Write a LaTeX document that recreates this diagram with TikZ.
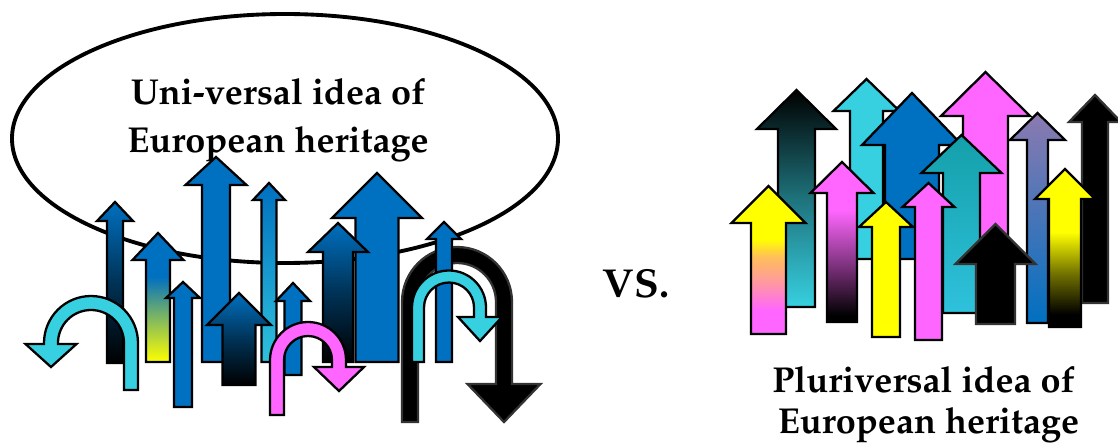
\documentclass[tikz,border=0pt]{standalone}
\usepackage[T1]{fontenc}
\usepackage{mathpazo}
\usepackage{xcolor}
\usepackage{tikz}
\usetikzlibrary{shapes,positioning}
\definecolor{arrblue}{RGB}{0, 112, 192}
\definecolor{arrcyan}{RGB}{55, 208, 225}
\definecolor{arrmag}{RGB}{255, 102, 255}
\definecolor{arryel}{RGB}{255, 255, 0}
\definecolor{arrteal}{RGB}{20, 160, 170}
\definecolor{arrpurp}{RGB}{140, 122, 176}
\definecolor{arrpink}{RGB}{255, 150, 165}
\definecolor{arrorange}{RGB}{255, 190, 90}
\pgfdeclareverticalshading{blueyel}{100bp}{color(0bp)=(arryel); color(25bp)=(arryel); color(42bp)=(arrblue!50!arryel); color(58bp)=(arrblue); color(100bp)=(arrblue)}
\pgfdeclareverticalshading{yelmag}{100bp}{color(0bp)=(arrmag); color(33bp)=(arrmag); color(42bp)=(arrpink); color(51bp)=(arrorange); color(57bp)=(arryel); color(100bp)=(arryel)}
\pgfdeclareverticalshading{magblack}{100bp}{color(0bp)=(black); color(27bp)=(black); color(43bp)=(arrmag!50!black); color(60bp)=(arrmag); color(100bp)=(arrmag)}
\pgfdeclareverticalshading{yelblack}{100bp}{color(0bp)=(black); color(29bp)=(black); color(42bp)=(arryel!45!black); color(55bp)=(arryel); color(100bp)=(arryel)}
\tikzstyle{arr} = [draw=black, line width=1.3pt, line join=miter]
\tikzstyle{bluearr} = [arr, fill=arrblue]
\tikzstyle{cyanarr} = [arr, fill=arrcyan]
\tikzstyle{magarr} = [arr, fill=arrmag]
\tikzstyle{yelarr} = [arr, fill=arryel]
\tikzstyle{blackarr} = [arr, fill=black, draw=black!80]
\tikzstyle{darkarr} = [arr, top color=arrblue, bottom color=black, middle color=arrblue!45!black]
\tikzstyle{bluecyanarr} = [arr, top color=arrblue, bottom color=arrcyan!85!arrblue]
\tikzstyle{blueyelarr} = [arr, shading=blueyel]
\tikzstyle{tealarr} = [arr, top color=black, bottom color=arrcyan, middle color=arrcyan!55!black]
\tikzstyle{tealcyanarr} = [arr, top color=arrteal, bottom color=arrcyan!85!arrblue]
\tikzstyle{purparr} = [arr, top color=arrpurp, bottom color=arrblue]
\tikzstyle{yelmagarr} = [arr, shading=yelmag]
\tikzstyle{magblackarr} = [arr, shading=magblack]
\tikzstyle{yelblackarr} = [arr, shading=yelblack]
\tikzstyle{lbl} = [font=\fontsize{20.5}{25}\selectfont\bfseries, inner sep=0pt, anchor=base]
% straight arrow: style, x, tip, head base, tail, half shaft, half head
\newcommand{\arrowup}[7]{%
  \path[#1] (#2-#6,#5) -- (#2-#6,#4) -- (#2-#7,#4) -- (#2,#3) -- (#2+#7,#4) -- (#2+#6,#4) -- (#2+#6,#5) -- cycle;}
% u-turn arrow: style, cx, cy, radius, half width, tail, head base, tip, half head
\newcommand{\uturn}[9]{%
  \path[#1] (#2-#4-#5,#6) -- (#2-#4-#5,#3) arc (180:360:#4+#5) -- (#2+#4+#5,#7) -- (#2+#4+#9,#7) -- (#2+#4,#8) -- (#2+#4-#9,#7) -- (#2+#4-#5,#7) -- (#2+#4-#5,#3) arc (0:-180:#4-#5) -- (#2-#4+#5,#6) -- cycle;}

\begin{document}
\begin{tikzpicture}[x=0.02cm, y=-0.02cm]
\useasboundingbox (0,0) rectangle (1118,446);

% universal idea =============================
\draw[line width=2.2pt] (285,138.5) ellipse [x radius=273, y radius=124.5];
\node[lbl] (uni1) at (278,105) {Uni-versal idea of};
\node[lbl] (uni2) at (278,152) {European heritage};

\arrowup{darkarr}{115}{202}{221}{363}{8}{18}
\arrowup{blueyelarr}{158}{233}{260}{362}{12}{25.5}
\arrowup{bluearr}{183}{282}{298}{407}{9}{17}
\arrowup{bluearr}{216}{157}{185}{362}{14}{30.5}
\arrowup{bluecyanarr}{269}{183}{200}{362}{7.5}{16}
\arrowup{darkarr}{239}{293}{325}{385}{16.5}{32}
\begin{scope}[xscale=-1]
\uturn{cyanarr}{-91}{343}{40}{7}{390}{344}{367}{25.5}
\end{scope}
\arrowup{bluearr}{293}{283}{301}{375}{8.5}{17}
\arrowup{bluearr}{377}{173}{218}{362}{21.5}{45}
\arrowup{darkarr}{338}{223}{252}{362}{15}{30}
\uturn{magarr}{308}{360}{31}{7}{415}{367}{391}{25}
\uturn{blackarr}{457}{302}{47}{8}{422}{384}{422}{36.5}
\arrowup{bluearr}{444}{222}{239}{362}{8}{17}
\uturn{cyanarr}{449}{307.5}{31}{6}{362}{317}{341}{22}

% vs =============================
\node[lbl, font=\fontsize{23}{28}\selectfont\bfseries] (vs) at (636,297) {VS.};

% pluriversal idea =============================
\arrowup{magarr}{985.5}{72}{116}{255}{22.5}{44.5}
\arrowup{cyanarr}{866.5}{79}{111}{259}{16.5}{33}
\arrowup{bluearr}{912}{93}{145}{259}{27}{50}
\arrowup{tealarr}{796.5}{90}{129}{307}{18.5}{39.5}
\arrowup{blackarr}{1095}{95}{122}{303}{13}{26}
\arrowup{purparr}{1037.5}{113}{140}{323}{10.5}{27.5}
\arrowup{tealcyanarr}{961.5}{135}{173}{313}{18.5}{40}
\arrowup{yelmagarr}{768.5}{186}{223}{334}{17.5}{37}
\arrowup{magblackarr}{842}{162}{193}{322}{15}{31.5}
\arrowup{yelarr}{886}{202}{227}{337}{14}{27}
\arrowup{magarr}{928.5}{183}{207}{340}{13.5}{26}
\arrowup{blackarr}{995.5}{224}{264}{324}{19.5}{40}
\arrowup{yelblackarr}{1065}{169}{199}{327}{16}{30}

\node[lbl] (plu1) at (923.5,392) {Pluriversal idea of};
\node[lbl] (plu2) at (928.5,433) {European heritage};

\end{tikzpicture}
\end{document}
